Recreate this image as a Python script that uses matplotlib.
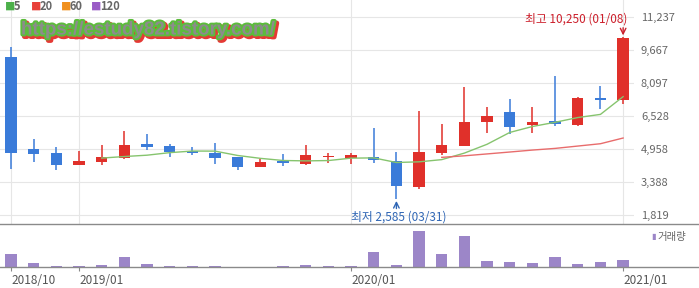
import numpy as np
import pandas as pd
import matplotlib
matplotlib.use("Agg")
import matplotlib.pyplot as plt
import matplotlib.patheffects as pe
from matplotlib.lines import Line2D

plt.rcParams['font.family'] = ['Noto Sans CJK KR', 'DejaVu Sans']

# monthly candles 2018/10 ~ 2021/01
months = pd.period_range('2018-10', '2021-01', freq='M')
opens = [9306, 4958, 4753, 4197, 4358, 4530, 5181, 5086, 4863, 4753,
         4549, 4101, 4373, 4244, 4577, 4530, 4549, 4387, 3150, 4739,
         5100, 6214, 6704, 6085, 6261, 6085, 7369, 7260]
highs = [9810, 5405, 5053, 4863, 5134, 5814, 5657, 5196, 5024, 5215,
         4577, 4482, 4706, 5134, 4786, 4739, 5942, 4815, 6765, 6133,
         7907, 6956, 7322, 6941, 8416, 7431, 7940, 10250]
lows = [4006, 4358, 3978, 4183, 4216, 4482, 4910, 4577, 4672, 4244,
        3978, 4087, 4149, 4197, 4292, 4244, 4292, 2585, 3055, 4691,
        5086, 5690, 5657, 5719, 6038, 6052, 6860, 7070]
closes = [4767, 4720, 4197, 4373, 4549, 5134, 5039, 4801, 4753, 4530,
          4101, 4358, 4292, 4658, 4610, 4672, 4420, 3198, 4815, 5134,
          6228, 6513, 6004, 6228, 6133, 7355, 7260, 10220]
volumes = [1360, 430, 130, 130, 230, 1030, 330, 130, 130, 130,
           0, 0, 130, 230, 130, 130, 1530, 270, 3630, 1360,
           3160, 630, 530, 430, 1030, 330, 530, 730]

ytick_vals = [1819, 3388, 4958, 6528, 8097, 9667, 11237]
xtick_labels = ['2018/10', '2019/01', '2020/01', '2021/01']

df = pd.DataFrame({'open': opens, 'high': highs, 'low': lows,
                   'close': closes, 'vol': volumes}, index=months)
ma5 = df['close'].rolling(5).mean()
ma20 = df['close'].rolling(20).mean()

RED = '#e0302a'
BLUE = '#3a7bd9'
PURPLE = '#9c86c8'
GRID = '#e6e6e6'

W, H = 699, 288
fig = plt.figure(figsize=(W / 100, H / 100), dpi=100)

x = np.arange(len(df))
x0 = -0.485
x1 = 27.48

# price panel
ax = fig.add_axes([0, (H - 224) / H, 634 / W, 224 / H])
ax.set_xlim(x0, x1)
ax.set_ylim(1390, 12030)

up = df['close'] >= df['open']
colors = np.where(up, RED, BLUE)
body_lo = np.minimum(df['open'], df['close'])
body_h = np.maximum(np.abs(df['close'] - df['open']), 60)

ax.vlines(x, df['low'], df['high'], colors=colors, linewidth=1.1, zorder=3)
ax.bar(x, body_h, bottom=body_lo, width=0.5, color=colors, zorder=4)

ax.plot(x, ma5, color='#86c46e', linewidth=1.0, zorder=5)
ax.plot(x, ma20, color='#e86c6c', linewidth=1.0, zorder=5)

tick_idx = [list(df.index.strftime('%Y/%m')).index(t) for t in xtick_labels]
ax.set_xticks(tick_idx)
ax.set_xticklabels([])
ax.set_yticks(ytick_vals)
ax.set_yticklabels([f'{v:,}' for v in ytick_vals])
ax.yaxis.tick_right()
ax.tick_params(axis='y', length=0, pad=5, labelsize=8, labelcolor='#666666')
ax.tick_params(axis='x', length=0)
ax.grid(True, color=GRID, linewidth=0.8, zorder=0)
for s in ax.spines.values():
    s.set_visible(False)

# high / low marks
hi_i = int(np.argmax(df['high']))
lo_i = int(np.argmin(df['low']))
hi_color = '#cc1f2b'
lo_color = '#2f66b5'
ax.annotate('', xy=(hi_i, df['high'].iloc[hi_i]), xytext=(0, 7),
            textcoords='offset points',
            arrowprops=dict(arrowstyle='->', color=hi_color, lw=1.0,
                            shrinkA=0, shrinkB=1.5))
ax.annotate(f"최고 {df['high'].iloc[hi_i]:,} (01/08)",
            xy=(hi_i, df['high'].iloc[hi_i]), xytext=(3, 13),
            textcoords='offset points', ha='right', va='center',
            fontsize=8.5, color=hi_color)
ax.annotate('', xy=(lo_i, df['low'].iloc[lo_i]), xytext=(0, -7),
            textcoords='offset points',
            arrowprops=dict(arrowstyle='->', color=lo_color, lw=1.0,
                            shrinkA=0, shrinkB=1.5))
ax.annotate(f"최저 {df['low'].iloc[lo_i]:,} (03/31)",
            xy=(lo_i, df['low'].iloc[lo_i]), xytext=(-33, -13),
            textcoords='offset points', ha='left', va='center',
            fontsize=8.5, color=lo_color)

# volume panel
vax = fig.add_axes([0, (H - 267.3) / H, 634 / W, 43.3 / H])
vax.set_xlim(x0, x1)
vax.set_ylim(0, 4330)
vax.bar(x, df['vol'], width=0.5, color=PURPLE, zorder=3)
vax.set_yticks([])
vax.set_xticks(tick_idx)
vax.set_xticklabels(xtick_labels, ha='left')
vax.tick_params(axis='x', length=3, width=0.8, color='#888888', pad=2,
                labelsize=8.5, labelcolor='#555555')
for s in vax.spines.values():
    s.set_visible(False)

# full-width base lines
fig.add_artist(Line2D([0, 1], [(H - 223.5) / H] * 2, color='#8a8a8a', lw=1.0))
fig.add_artist(Line2D([0, 1], [(H - 267.3) / H] * 2, color='#8a8a8a', lw=1.0))

# legends
ma_items = [('5', '#4cb04a'), ('20', '#e8403a'), ('60', '#f0901e'), ('120', '#9a5cc6')]
lx = [5, 31, 61, 91]
for (lab, c), px in zip(ma_items, lx):
    fig.text(px / W, 1 - 6.5 / H, '■', color=c, fontsize=7.5, va='center', ha='left')
    fig.text((px + 9) / W, 1 - 6.5 / H, lab, color='#666666', fontsize=8,
             fontweight='bold', va='center', ha='left')

fig.text(651 / W, 1 - 237 / H, '▮', color=PURPLE, fontsize=6, va='center', ha='left')
fig.text(657 / W, 1 - 237 / H, '거래량', color='#666666', fontsize=7.5,
         va='center', ha='left')

# watermark
fig.text(21 / W, 1 - 30 / H, 'https://estudy82.tistory.com/', color='#8c8c8c',
         fontsize=13.5, fontweight='bold', family=['Liberation Sans', 'DejaVu Sans'],
         va='center', ha='left', zorder=10,
         path_effects=[pe.Stroke(linewidth=3.5, foreground='#e53935', offset=(1.5, -1.5)),
                       pe.Stroke(linewidth=2.8, foreground='#5cbc3c'),
                       pe.Normal()])

fig.savefig('out.png', dpi=100)
